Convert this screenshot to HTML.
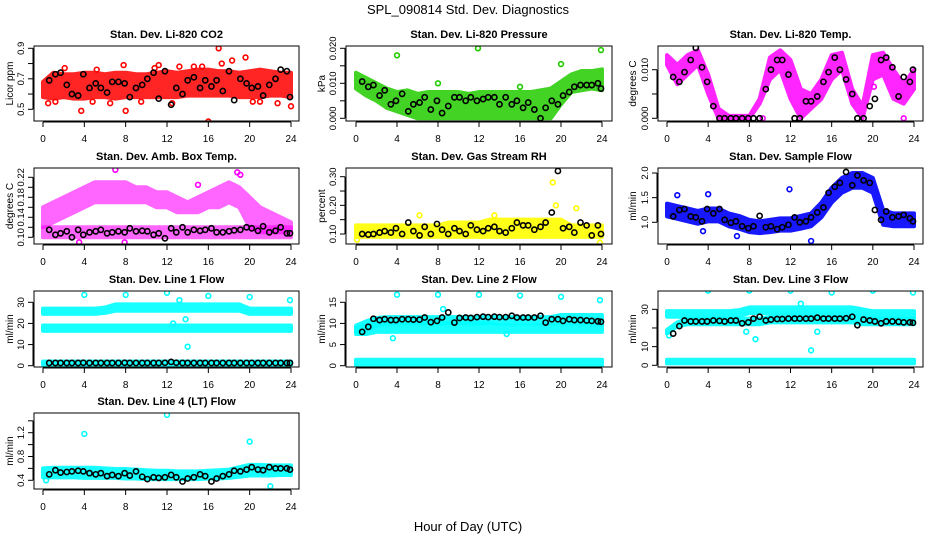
<!DOCTYPE html>
<html><head><meta charset="utf-8"><style>
html,body{margin:0;padding:0;background:#fff;}
svg{display:block;font-family:"Liberation Sans",sans-serif;}
</style></head><body>
<svg id="root" width="936" height="540" viewBox="0 0 936 540">
<text x="468" y="14" text-anchor="middle" font-size="13">SPL_090814  Std. Dev. Diagnostics</text>
<text x="468" y="531" text-anchor="middle" font-size="13">Hour of Day (UTC)</text>
</svg>
<script>
const bandHours=[0,1,2,3,4,5,6,7,8,9,10,11,12,13,14,15,16,17,18,19,20,21,22,23,24];
const meanHours=[0.6,1.2,1.7,2.3,2.8,3.4,3.9,4.5,5.1,5.6,6.2,6.7,7.3,7.9,8.4,9.0,9.6,10.1,10.7,11.2,11.8,12.4,12.9,13.5,14.0,14.6,15.2,15.7,16.3,16.8,17.4,18.0,18.5,19.1,19.7,20.2,20.8,21.3,21.9,22.5,23.0,23.6,23.9];
const xTicks=[0,4,8,12,16,20,24];
// CO2
const co2Lo=[0.58,0.57,0.58,0.57,0.57,0.58,0.58,0.57,0.58,0.58,0.58,0.58,0.58,0.58,0.59,0.59,0.59,0.59,0.59,0.58,0.58,0.58,0.59,0.59,0.58];
const co2Hi=[0.68,0.74,0.73,0.73,0.74,0.74,0.73,0.74,0.74,0.73,0.73,0.74,0.75,0.74,0.75,0.76,0.76,0.75,0.75,0.74,0.75,0.76,0.75,0.74,0.74];
const co2OutH=[1.2,2.1,3.7,4.8,5.2,7.8,8.0,10.8,11.2,13.2,14.6,15.4,16.0,17.0,17.3,18.3,19.6,20.3,22.7,24.0,0.5,6.5,9.5,12.5,21.0];
const co2OutV=[0.55,0.77,0.49,0.55,0.76,0.79,0.49,0.77,0.79,0.78,0.78,0.78,0.42,0.9,0.8,0.82,0.84,0.55,0.54,0.52,0.54,0.54,0.55,0.54,0.55];
const co2Mean=[0.69,0.73,0.74,0.66,0.60,0.59,0.73,0.64,0.67,0.64,0.61,0.68,0.68,0.67,0.58,0.64,0.66,0.70,0.74,0.57,0.75,0.53,0.64,0.60,0.69,0.71,0.64,0.69,0.65,0.69,0.62,0.75,0.56,0.70,0.67,0.64,0.65,0.59,0.66,0.70,0.76,0.75,0.58];
// Pressure
const prLo=[0.0085,0.0065,0.005,0.003,0.002,0.001,0,0,0,0,0,0,0,0,0,0,0,0,0,0,0.004,0.0075,0.008,0.0085,0.008];
const prHi=[0.013,0.0115,0.010,0.0085,0.0075,0.008,0.007,0.0075,0.0075,0.0075,0.0075,0.007,0.0075,0.0075,0.0075,0.0075,0.0075,0.0075,0.008,0.0085,0.0105,0.0125,0.0135,0.0135,0.014];
const prOutH=[4.0,8.0,11.9,16.0,20.0,23.9];
const prOutV=[0.018,0.010,0.020,0.009,0.0155,0.0195];
const prMean=[0.0105,0.009,0.0095,0.0065,0.008,0.004,0.005,0.007,0.002,0.004,0.0045,0.006,0.0025,0.005,0.0015,0.0035,0.006,0.006,0.005,0.006,0.005,0.0055,0.006,0.006,0.004,0.006,0.004,0.005,0.003,0.0045,0.0025,0.000,0.003,0.005,0.004,0.0065,0.0075,0.009,0.0095,0.0095,0.0095,0.010,0.0085];
// Li-820 temp
const tLo=[0.0110,0.0070,0.0090,0.0110,0.0050,0,0,0,0,0.0030,0.0080,0.0100,0.0040,0,0.0020,0.0040,0.0080,0.0100,0.0030,0,0.0080,0.0090,0.0040,0.0030,0.0060];
const tHi=[0.0130,0.0110,0.0130,0.0140,0.0090,0.0020,0.0005,0.0005,0.0005,0.0040,0.0125,0.0140,0.0120,0.0060,0.0050,0.0080,0.0130,0.0135,0.0060,0.0025,0.0130,0.0135,0.0100,0.0070,0.0100];
const tOutH=[9.3,23.0,20.1];
const tOutV=[0,0,0.0065];
const tMean=[0.0085,0.0075,0.0095,0.0120,0.0145,0.0105,0.0075,0.0025,0,0,0,0,0,0,0,0,0.0060,0.0100,0.0120,0.0120,0.0090,0,0,0.0035,0.0035,0.0045,0.0075,0.0095,0.0125,0.0100,0.0080,0.0050,0,0,0.0025,0.0040,0.0120,0.0125,0.0105,0.0045,0.0085,0.0075,0.0100];
// Amb box temp
const abUpLo=[0.12,0.13,0.14,0.15,0.16,0.17,0.17,0.17,0.17,0.17,0.17,0.16,0.16,0.15,0.15,0.15,0.16,0.16,0.17,0.16,0.12,0.11,0.11,0.11,0.11];
const abUpHi=[0.16,0.17,0.18,0.19,0.20,0.21,0.21,0.21,0.21,0.20,0.20,0.19,0.19,0.18,0.17,0.18,0.19,0.20,0.21,0.20,0.18,0.16,0.15,0.14,0.13];
const abLowLo=[0.10,0.10,0.10,0.10,0.10,0.10,0.10,0.10,0.10,0.10,0.10,0.10,0.10,0.10,0.10,0.10,0.10,0.10,0.10,0.10,0.10,0.10,0.10,0.10,0.10];
const abLowHi=[0.12,0.12,0.12,0.12,0.12,0.12,0.12,0.12,0.12,0.12,0.12,0.12,0.12,0.12,0.12,0.12,0.12,0.12,0.12,0.12,0.12,0.12,0.12,0.12,0.12];
const abOutH=[7.0,18.8,19.1,15.0,3.5,7.9];
const abOutV=[0.235,0.23,0.225,0.205,0.09,0.09];
const abMean=[0.115,0.105,0.108,0.112,0.10,0.115,0.105,0.11,0.112,0.115,0.108,0.11,0.112,0.11,0.118,0.112,0.113,0.112,0.105,0.108,0.098,0.118,0.11,0.12,0.11,0.115,0.113,0.115,0.118,0.11,0.11,0.112,0.114,0.115,0.12,0.118,0.113,0.122,0.11,0.113,0.12,0.108,0.108];
// RH
const rhLo=[0.09,0.09,0.09,0.09,0.09,0.09,0.09,0.09,0.09,0.09,0.09,0.09,0.09,0.09,0.09,0.09,0.09,0.09,0.09,0.09,0.09,0.09,0.09,0.09,0.09];
const rhHi=[0.13,0.13,0.13,0.13,0.13,0.13,0.13,0.13,0.13,0.14,0.14,0.14,0.14,0.15,0.15,0.15,0.15,0.15,0.15,0.15,0.15,0.13,0.13,0.13,0.13];
const rhOutH=[6.2,13.5,19.2,19.5,21.5,23.8,0.1];
const rhOutV=[0.165,0.165,0.28,0.2,0.19,0.07,0.08];
const rhMean=[0.10,0.098,0.10,0.105,0.11,0.105,0.12,0.1,0.14,0.11,0.095,0.125,0.1,0.135,0.115,0.1,0.12,0.11,0.10,0.13,0.115,0.11,0.12,0.125,0.11,0.105,0.12,0.14,0.13,0.13,0.115,0.125,0.14,0.175,0.32,0.12,0.125,0.105,0.14,0.13,0.095,0.13,0.10];
// Sample flow
const flLo=[1.12,1.07,1.02,0.97,1.02,1.02,0.92,0.87,0.80,0.78,0.80,0.83,0.83,0.87,0.92,1.10,1.40,1.60,1.70,1.70,1.60,0.95,0.92,0.92,0.92];
const flHi=[1.38,1.33,1.28,1.23,1.28,1.28,1.18,1.13,1.05,1.02,1.05,1.08,1.08,1.13,1.18,1.40,1.70,1.90,2.00,2.00,1.90,1.25,1.18,1.18,1.18];
const flOutH=[1.0,4.0,11.9,14.0,3.5,6.8];
const flOutV=[1.55,1.57,1.67,0.62,0.82,0.72];
const flMean=[1.12,1.25,1.27,1.12,1.10,1.02,1.27,1.18,1.27,1.05,0.99,1.02,0.92,0.88,0.92,1.13,0.90,0.92,0.86,0.90,0.95,1.1,1.0,1.02,1.1,1.2,1.3,1.6,1.72,1.8,2.02,1.75,1.95,1.85,1.8,1.25,1.05,1.22,1.1,1.12,1.15,1.08,1.02];
// Line 1
const l1TopLo=[24.5,24.5,24.5,24.5,24.5,24.5,25,26,26,26,26,26,26,26,26,26,26,26,26,26,24.5,24.5,24.5,24.5,24.5];
const l1TopHi=[27,27,27,27,27,27,27.5,29,29,29,29,29,29,29,29,29,29,29,29,29,27,27,27,27,27];
const l1MidLo=[16.5,16.5,16.5,16.5,16.5,16.5,16.5,16.5,16.5,16.5,16.5,16.5,16.5,16.5,16.5,16.5,16.5,16.5,16.5,16.5,16.5,16.5,16.5,16.5,16.5];
const l1MidHi=[19,19,19,19,19,19,19,19,19,19,19,19,19,19,19,19,19,19,19,19,19,19,19,19,19];
const l1BotLo=[0.5,0.5,0.5,0.5,0.5,0.5,0.5,0.5,0.5,0.5,0.5,0.5,0.5,0.5,0.5,0.5,0.5,0.5,0.5,0.5,0.5,0.5,0.5,0.5,0.5];
const l1BotHi=[2,2,2,2,2,2,2,2,2,2,2,2,2,2,2,2,2,2,2,2,2,2,2,2,2];
const l1OutH=[4,8,12,16,20,23.9,14,13.2,12.6,13.8];
const l1OutV=[33.5,33.5,34.5,33,32.5,31,9,31,20,22];
const l1Mean=[1.3,1.3,1.3,1.3,1.3,1.3,1.4,1.3,1.3,1.3,1.3,1.3,1.3,1.4,1.3,1.3,1.3,1.3,1.3,1.3,1.4,1.8,1.4,1.3,1.3,1.3,1.3,1.3,1.3,1.3,1.3,1.3,1.3,1.3,1.3,1.3,1.3,1.3,1.3,1.3,1.3,1.3,1.3];
// Line 2
const l2TopLo=[8,8.5,9.5,10,10,10,10,10,10,10,10,10,10,10,10,10,10,10,10,10,10,10,10,10,10];
const l2TopHi=[9.5,10.5,11.3,11.5,11.5,11.5,11.5,11.5,11.5,11.5,11.5,11.5,11.5,11.5,11.5,11.5,11.5,11.5,11.5,11.5,12,12,12,12,12];
const l2MidLo=[7.5,7.5,8,8,8,8,8,8,8,8,8,8,8,8,8,8,8,8,8,8,8,8,8,8,8];
const l2MidHi=[9,9.5,10,10,10,10,10,10,10,10,10,10,10,10,9.5,9.5,9.5,9.5,9.5,9.5,9.5,9.5,9.5,9.5,9.5];
const l2BotLo=[0.2,0.2,0.2,0.2,0.2,0.2,0.2,0.2,0.2,0.2,0.2,0.2,0.2,0.2,0.2,0.2,0.2,0.2,0.2,0.2,0.2,0.2,0.2,0.2,0.2];
const l2BotHi=[1.4,1.4,1.4,1.4,1.4,1.4,1.4,1.4,1.4,1.4,1.4,1.4,1.4,1.4,1.4,1.4,1.4,1.4,1.4,1.4,1.4,1.4,1.4,1.4,1.4];
const l2OutH=[4,8,12,16,20,23.8,3.6,8.5,14.7];
const l2OutV=[16.8,16.8,16.8,16.6,16.3,15.5,6.5,13.4,7.5];
const l2Mean=[8.0,9.2,11.1,10.8,11.0,10.8,10.8,11.0,11.0,10.9,10.9,11.4,10.3,10.6,11.4,12.6,10.2,11.3,11.4,11.3,11.5,11.6,11.5,11.6,11.5,11.5,11.8,11.4,11.4,11.4,11.4,11.8,10.2,11.0,11.0,10.6,11.0,10.8,10.8,10.7,10.6,10.5,10.4];
// Line 3
const l3TopLo=[26,26,26,26,26,26,26,26.5,28,28,28,28,28,28,28,28,28,28,28,27,26,26,26,26,26];
const l3TopHi=[29,29,29,29,29,29,29,29.5,31,31,31,31,31,31,31,31,31,31,31,30,29,29,29,29,29];
const l3MidLo=[17,21,22,22,22,22,22,22,22,22,23,23,23,23,23,23,23,23,23,22,22,22,22,22,22];
const l3MidHi=[19,23,25,25,25,25,25,25,25,25,26,26,26,26,26,26,26,26,26,25,25,25,25,25,25];
const l3BotLo=[1,1,1,1,1,1,1,1,1,1,1,1,1,1,1,1,1,1,1,1,1,1,1,1,1];
const l3BotHi=[3,3,3,3,3,3,3,3,3,3,3,3,3,3,3,3,3,3,3,3,3,3,3,3,3];
const l3OutH=[4,8,12,16,20,23.9,0.2,13,14,14.6,7.7,8.6];
const l3OutV=[40,40,40,39,40,39,16,33,8,18,18,14];
const l3Mean=[17,21,24,23.5,23.5,23.5,23.5,24,23.8,23.5,24,24,22.5,23,25,26,24,24.5,24.8,24.8,25,25,25,25,25,25.5,25,25,25,25,25.2,26,21.5,24.5,24,23.5,22.5,23.5,23.5,23.3,23,23,22.8];
// Line 4
const l4Lo=[0.45,0.45,0.45,0.45,0.44,0.44,0.44,0.44,0.43,0.43,0.42,0.42,0.42,0.42,0.42,0.42,0.43,0.43,0.44,0.46,0.48,0.48,0.48,0.49,0.49];
const l4Hi=[0.60,0.61,0.61,0.61,0.61,0.61,0.60,0.59,0.59,0.58,0.57,0.56,0.56,0.55,0.55,0.55,0.56,0.57,0.58,0.62,0.66,0.66,0.65,0.65,0.65];
const l4OutH=[4,12,20,22,0.3];
const l4OutV=[1.18,1.5,1.05,0.3,0.4];
const l4Mean=[0.5,0.57,0.53,0.54,0.55,0.56,0.55,0.52,0.5,0.52,0.47,0.49,0.47,0.52,0.48,0.55,0.46,0.42,0.45,0.44,0.45,0.49,0.45,0.38,0.43,0.45,0.5,0.47,0.38,0.43,0.47,0.5,0.56,0.55,0.58,0.62,0.58,0.57,0.62,0.6,0.6,0.6,0.58];

const NS='http://www.w3.org/2000/svg';
const root=document.getElementById('root');
function el(tag,attrs,parent){const e=document.createElementNS(NS,tag);for(const k in attrs)e.setAttribute(k,attrs[k]);(parent||root).appendChild(e);return e;}
const cols=[{l:34,r:299,x0:43,x24:291,yl:9},{l:346,r:612,x0:356,x24:602,yl:321},{l:658,r:923,x0:667,x24:914,yl:632}];
const rows=[{t:46,b:121},{t:168,b:244},{t:291,b:367},{t:413,b:489}];
const panels=[
 {c:0,r:0,title:'Stan. Dev. Li-820 CO2',yl:'Licor ppm',col:'#ff0000',op:0.85,v1:0.5,p1:109.3,v2:0.9,p2:48.3,ticks:[0.5,0.6,0.7,0.8,0.9],labels:['0.5','','0.7','','0.9'],bands:[[co2Lo,co2Hi]],oh:co2OutH,ov:co2OutV,mean:co2Mean},
 {c:1,r:0,title:'Stan. Dev. Li-820 Pressure',yl:'kPa',col:'#22cc00',op:0.85,v1:0,p1:118.3,v2:0.02,p2:48.3,ticks:[0,0.005,0.01,0.015,0.02],labels:['0.000','','0.010','','0.020'],bands:[[prLo,prHi]],oh:prOutH,ov:prOutV,mean:prMean},
 {c:2,r:0,title:'Stan. Dev. Li-820 Temp.',yl:'degrees C',col:'#ff00ff',op:0.85,v1:0,p1:118.3,v2:0.01,p2:69.7,ticks:[0,0.005,0.01],labels:['0.000','','0.010'],bands:[[tLo,tHi]],oh:tOutH,ov:tOutV,mean:tMean},
 {c:0,r:1,title:'Stan. Dev. Amb. Box Temp.',yl:'degrees C',col:'#ff00ff',op:0.6,v1:0.1,p1:237.3,v2:0.22,p2:177.3,ticks:[0.1,0.12,0.14,0.16,0.18,0.2,0.22],labels:['0.10','','0.14','','0.18','','0.22'],bands:[[abUpLo,abUpHi],[abLowLo,abLowHi]],oh:abOutH,ov:abOutV,mean:abMean},
 {c:1,r:1,title:'Stan. Dev. Gas Stream RH',yl:'percent',col:'#ffff00',op:0.9,v1:0.1,p1:234,v2:0.3,p2:176.7,ticks:[0.1,0.15,0.2,0.25,0.3],labels:['0.10','','0.20','','0.30'],bands:[[rhLo,rhHi]],oh:rhOutH,ov:rhOutV,mean:rhMean},
 {c:2,r:1,title:'Stan. Dev. Sample Flow',yl:'ml/min',col:'#0000ff',op:0.9,v1:1,p1:222.3,v2:2,p2:173,ticks:[1,1.5,2],labels:['1.0','1.5','2.0'],bands:[[flLo,flHi]],oh:flOutH,ov:flOutV,mean:flMean},
 {c:0,r:2,title:'Stan. Dev. Line 1 Flow',yl:'ml/min',col:'#00ffff',op:0.9,v1:0,p1:365.7,v2:30,p2:302.3,ticks:[0,10,20,30],labels:['0','10','20','30'],bands:[[l1TopLo,l1TopHi],[l1MidLo,l1MidHi],[l1BotLo,l1BotHi]],oh:l1OutH,ov:l1OutV,mean:l1Mean},
 {c:1,r:2,title:'Stan. Dev. Line 2 Flow',yl:'ml/min',col:'#00ffff',op:0.9,v1:0,p1:365.7,v2:15,p2:302.3,ticks:[0,5,10,15],labels:['0','5','10','15'],bands:[[l2TopLo,l2TopHi],[l2MidLo,l2MidHi],[l2BotLo,l2BotHi]],oh:l2OutH,ov:l2OutV,mean:l2Mean},
 {c:2,r:2,title:'Stan. Dev. Line 3 Flow',yl:'ml/min',col:'#00ffff',op:0.9,v1:0,p1:365.3,v2:30,p2:309.3,ticks:[0,10,20,30],labels:['0','10','','30'],bands:[[l3TopLo,l3TopHi],[l3MidLo,l3MidHi],[l3BotLo,l3BotHi]],oh:l3OutH,ov:l3OutV,mean:l3Mean},
 {c:0,r:3,title:'Stan. Dev. Line 4 (LT) Flow',yl:'ml/min',col:'#00ffff',op:0.9,v1:0.4,p1:480.3,v2:1.2,p2:432.7,ticks:[0.4,0.6,0.8,1.0,1.2,1.4],labels:['0.4','','0.8','','1.2',''],bands:[[l4Lo,l4Hi]],oh:l4OutH,ov:l4OutV,mean:l4Mean}
];
panels.forEach((p,i)=>{
 const C=cols[p.c],R=rows[p.r];
 const xs=h=>C.x0+(C.x24-C.x0)*h/24;
 const ys=v=>p.p1+(p.p2-p.p1)*(v-p.v1)/(p.v2-p.v1);
 const g=el('g',{});
 
 
 const clip=el('clipPath',{id:'cp'+i},g);el('rect',{x:C.l,y:R.t,width:C.r-C.l,height:R.b-R.t},clip);
 const data=el('g',{'clip-path':'url(#cp'+i+')'},g);
 p.bands.forEach(b=>{
  let pts=bandHours.map((h,k)=>xs(h)+','+ys(b[1][k]));
  pts=pts.concat(bandHours.slice().reverse().map((h,k)=>xs(h)+','+ys(b[0][bandHours.length-1-k])));
  const poly=el('polygon',{points:pts.join(' '),fill:p.col,stroke:p.col,'stroke-width':4,'stroke-linejoin':'round',opacity:p.op},data);
  
  
 });
 p.oh.forEach((h,k)=>{
  const c=el('circle',{cx:xs(h),cy:ys(p.ov[k]),r:2.4,fill:'none',stroke:p.col,'stroke-width':1.6},data);
  
  
 });
 meanHours.forEach((h,k)=>{
  const c=el('circle',{cx:xs(h),cy:ys(p.mean[k]),r:2.6,fill:'none',stroke:'#000','stroke-width':1.6},data);
  
  
 });
 const box=el('rect',{x:C.l,y:R.t,width:C.r-C.l,height:R.b-R.t,fill:'none',stroke:'#000','stroke-width':1},g);
 
 
 const t=el('text',{x:(C.l+C.r)/2,y:R.t-8,'text-anchor':'middle','font-size':11,'font-weight':'bold'},g);t.textContent=p.title;
 
 
 const xa=el('g',{},g);
 
 
 el('line',{x1:xs(0),x2:xs(24),y1:R.b+1,y2:R.b+1,stroke:'#000'},xa);
 xTicks.forEach(h=>{el('line',{x1:xs(h),x2:xs(h),y1:R.b+1,y2:R.b+6,stroke:'#000'},xa);
  const tx=el('text',{x:xs(h),y:R.b+21,'text-anchor':'middle','font-size':10},xa);tx.textContent=h;});
 const ya=el('g',{},g);
 
 
 const ax=C.l-1;
 el('line',{x1:ax,x2:ax,y1:ys(p.ticks[0]),y2:ys(p.ticks[p.ticks.length-1]),stroke:'#000'},ya);
 p.ticks.forEach((v,k)=>{const y=ys(v);el('line',{x1:ax-5,x2:ax,y1:y,y2:y,stroke:'#000'},ya);
  if(p.labels[k]){const tx=el('text',{x:ax-9,y:y,'text-anchor':'middle','font-size':9.5,transform:'rotate(-90 '+(ax-9)+' '+y+')'},ya);tx.textContent=p.labels[k];}});
 const ylab=el('text',{x:C.yl+4,y:(R.t+R.b)/2,'text-anchor':'middle','font-size':10,transform:'rotate(-90 '+(C.yl+4)+' '+((R.t+R.b)/2)+')'},g);
 ylab.textContent=p.yl;
 
 
});
</script>
</body></html>
